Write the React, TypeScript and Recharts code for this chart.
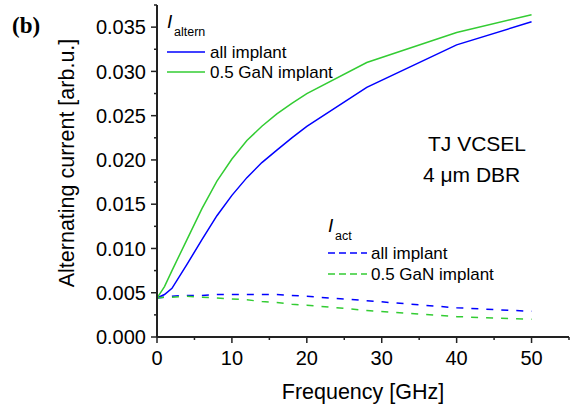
import React from "react";
import { LineChart, Line, XAxis, YAxis } from "recharts";

// frequency points [GHz]
const freq = [0, 1, 2, 4, 6, 8, 10, 12, 14, 16, 18, 20, 28, 40, 50];

// alternating current, solid lines
const alternAll = [0.0044, 0.0048, 0.0055, 0.0082, 0.011, 0.0137, 0.016, 0.018, 0.0197, 0.0211, 0.0225, 0.0238, 0.0282, 0.033, 0.0356];
const alternGaN = [0.0044, 0.0057, 0.0075, 0.011, 0.0145, 0.0176, 0.0201, 0.0222, 0.0238, 0.0252, 0.0264, 0.0275, 0.031, 0.0344, 0.0364];

// active-region current, dashed lines
const actAll = [0.0044, 0.0045, 0.0046, 0.0047, 0.0047, 0.0048, 0.0048, 0.0048, 0.0048, 0.0048, 0.0047, 0.0046, 0.0041, 0.0033, 0.0029];
const actGaN = [0.0044, 0.0045, 0.0045, 0.0046, 0.0045, 0.0044, 0.0043, 0.0042, 0.004, 0.0039, 0.0037, 0.0036, 0.003, 0.0023, 0.002];

const xTicks = [0, 5, 10, 15, 20, 25, 30, 35, 40, 45, 50, 55];
const xTopTicks = [0, 10, 20, 30, 40, 50];
const yTicks = [0, 0.0025, 0.005, 0.0075, 0.01, 0.0125, 0.015, 0.0175, 0.02, 0.0225, 0.025, 0.0275, 0.03, 0.0325, 0.035, 0.0375];

const data = freq.map((f, i) => ({
  f,
  alternAll: alternAll[i],
  alternGaN: alternGaN[i],
  actAll: actAll[i],
  actGaN: actGaN[i],
}));

const BLUE = "#0000ff";
const GREEN = "#33cc33";
const AXIS = "#222";
const FONT = "Arial, 'Liberation Sans', sans-serif";

const isMajorY = (v: number) => Math.abs(Math.round(v / 0.005) * 0.005 - v) < 1e-9;
const isMajorX = (v: number) => v % 10 === 0;

function LeftTick({ x, y, payload }: any) {
  const major = isMajorY(payload.value);
  return (
    <g>
      <line x1={x} x2={x - (major ? 6 : 3)} y1={y} y2={y} stroke={AXIS} strokeWidth={1.5} />
      {major && payload.value <= 0.035 && (
        <text x={x - 11} y={y} dy="0.36em" textAnchor="end" fontSize={20} fontFamily={FONT} fill="#000">
          {payload.value.toFixed(3)}
        </text>
      )}
    </g>
  );
}

function RightTick({ x, y }: any) {
  return <line x1={x} x2={x - 5} y1={y} y2={y} stroke={AXIS} strokeWidth={1.5} />;
}

function BottomTick({ x, y, payload }: any) {
  const major = isMajorX(payload.value);
  return (
    <g>
      <line x1={x} x2={x} y1={y} y2={y + (major ? 6 : 3)} stroke={AXIS} strokeWidth={1.5} />
      {major && payload.value <= 50 && (
        <text x={x} y={y + 28} textAnchor="middle" fontSize={20} fontFamily={FONT} fill="#000">
          {payload.value}
        </text>
      )}
    </g>
  );
}

function TopTick({ x, y }: any) {
  return <line x1={x} x2={x} y1={y} y2={y + 6} stroke={AXIS} strokeWidth={1.5} />;
}

export default function App() {
  return (
    <div style={{ position: "absolute", left: 0, top: 0, width: 570, height: 406, background: "#fff" }}>
      <LineChart width={570} height={406} data={data} margin={{ top: 5, right: 1, left: 0, bottom: 0 }}>
        <XAxis
          xAxisId="bottom"
          dataKey="f"
          type="number"
          domain={[0, 55]}
          ticks={xTicks}
          interval={0}
          height={69}
          tickSize={0}
          tickMargin={0}
          tickLine={false}
          axisLine={{ stroke: AXIS, strokeWidth: 2 }}
          tick={<BottomTick />}
        />
        <XAxis
          xAxisId="top"
          orientation="top"
          type="number"
          domain={[0, 55]}
          ticks={xTopTicks}
          interval={0}
          height={0}
          tickSize={0}
          tickMargin={0}
          tickLine={false}
          axisLine={{ stroke: AXIS, strokeWidth: 2 }}
          tick={<TopTick />}
        />
        <YAxis
          yAxisId="left"
          type="number"
          domain={[0, 0.0375]}
          ticks={yTicks}
          interval={0}
          width={157}
          tickSize={0}
          tickMargin={0}
          tickLine={false}
          axisLine={{ stroke: AXIS, strokeWidth: 2 }}
          tick={<LeftTick />}
        />
        <YAxis
          yAxisId="right"
          orientation="right"
          type="number"
          domain={[0, 0.0375]}
          ticks={yTicks}
          interval={0}
          width={0}
          tickSize={0}
          tickMargin={0}
          tickLine={false}
          axisLine={{ stroke: AXIS, strokeWidth: 2 }}
          tick={<RightTick />}
        />
        <Line xAxisId="bottom" yAxisId="left" type="linear" dataKey="alternAll" stroke={BLUE} strokeWidth={1.5} dot={false} isAnimationActive={false} />
        <Line xAxisId="bottom" yAxisId="left" type="linear" dataKey="alternGaN" stroke={GREEN} strokeWidth={1.5} dot={false} isAnimationActive={false} />
        <Line xAxisId="bottom" yAxisId="left" type="linear" dataKey="actAll" stroke={BLUE} strokeWidth={1.5} strokeDasharray="7 8" dot={false} isAnimationActive={false} />
        <Line xAxisId="bottom" yAxisId="left" type="linear" dataKey="actGaN" stroke={GREEN} strokeWidth={1.5} strokeDasharray="7 8" dot={false} isAnimationActive={false} />
      </LineChart>

      <svg width={570} height={406} style={{ position: "absolute", left: 0, top: 0, pointerEvents: "none" }} fontFamily={FONT}>
        <text x={12} y={33} fontSize={23} fontWeight="bold" fontFamily="'Liberation Serif', 'Times New Roman', serif">(b)</text>

        <text x={167} y={28} fontSize={19} fontStyle="italic">I</text>
        <text x={174} y={36} fontSize={12.5}>altern</text>
        <line x1={167} x2={205} y1={52} y2={52} stroke={BLUE} strokeWidth={1.5} />
        <text x={210} y={57.5} fontSize={17}>all implant</text>
        <line x1={167} x2={205} y1={72} y2={72} stroke={GREEN} strokeWidth={1.5} />
        <text x={210} y={77.5} fontSize={17}>0.5 GaN implant</text>

        <text x={428} y={151} fontSize={21}>TJ VCSEL</text>
        <text x={423} y={182} fontSize={21}>4 μm DBR</text>

        <text x={328} y={232} fontSize={19} fontStyle="italic">I</text>
        <text x={335} y={240} fontSize={12.5}>act</text>
        <line x1={328} x2={367} y1={253} y2={253} stroke={BLUE} strokeWidth={1.5} strokeDasharray="7 4" />
        <text x={371} y={258.5} fontSize={17}>all implant</text>
        <line x1={328} x2={367} y1={274} y2={274} stroke={GREEN} strokeWidth={1.5} strokeDasharray="7 4" />
        <text x={371} y={279.5} fontSize={17}>0.5 GaN implant</text>

        <text x={363} y={399} fontSize={21.5} textAnchor="middle">Frequency [GHz]</text>
        <text x={74} y={163} fontSize={21.5} textAnchor="middle" transform="rotate(-90 74 163)">Alternating current [arb.u.]</text>
      </svg>
    </div>
  );
}
